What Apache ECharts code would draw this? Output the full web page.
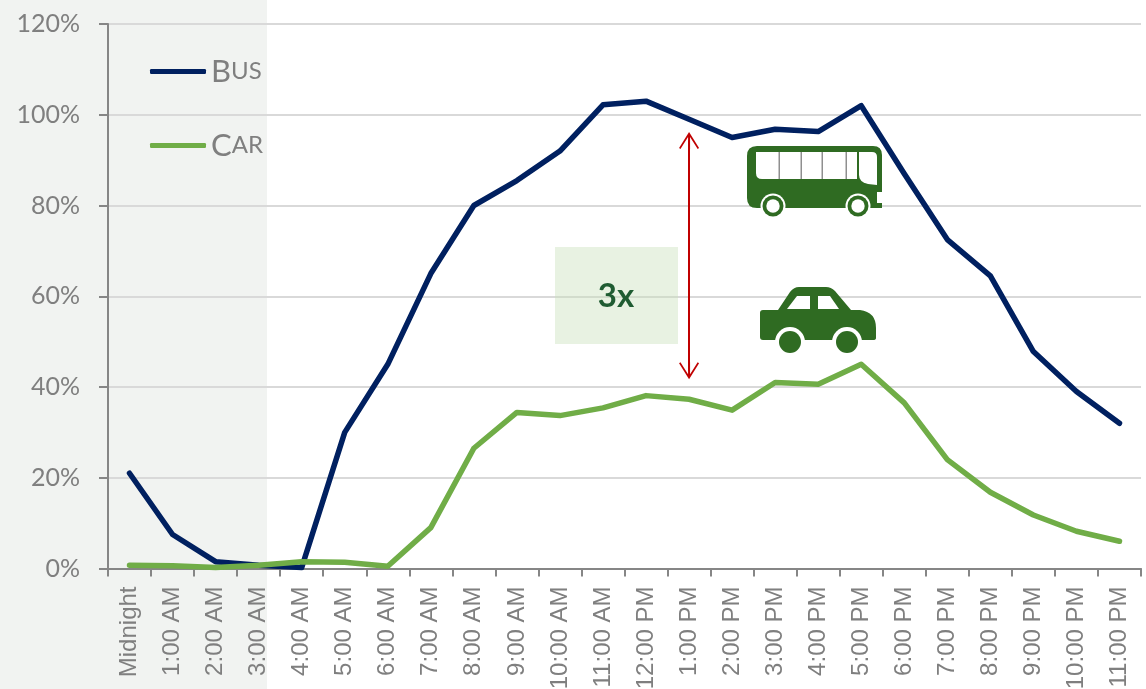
<!DOCTYPE html>
<html>
<head>
<meta charset="utf-8">
<style>html,body{margin:0;padding:0;background:#fff}#chart{width:1146px;height:689px}</style>
<script src="https://cdn.jsdelivr.net/npm/echarts@6/dist/echarts.min.js"></script>
</head>
<body>
<div id="chart"></div>
<script>
var hours = ['Midnight','1:00 AM','2:00 AM','3:00 AM','4:00 AM','5:00 AM','6:00 AM','7:00 AM','8:00 AM','9:00 AM','10:00 AM','11:00 AM','12:00 PM','1:00 PM','2:00 PM','3:00 PM','4:00 PM','5:00 PM','6:00 PM','7:00 PM','8:00 PM','9:00 PM','10:00 PM','11:00 PM'];
var bus = [21,7.5,1.5,0.7,0.2,30,45,65,80,85.5,92,102.2,103,99,95,96.8,96.3,102,87,72.5,64.5,47.8,39,32];
var car = [0.7,0.6,0.2,0.7,1.5,1.4,0.5,9,26.5,34.4,33.7,35.4,38.1,37.3,34.9,41,40.6,45,36.5,24,16.8,11.8,8.2,6];
var gapTop = 94.3, gapBottom = 43.6;

var grey = '#7f7f7f';
var iconGreen = '#2f6b22';
var white = '#fff';

// the graphic component has no plain 'path' type, so the icon outlines get registered
function addShape(name, pathData) {
    echarts.graphic.registerShape(name, echarts.graphic.extendPath(pathData, {}));
}
addShape('busBody', 'M757 146 H873 Q882 146 882 155 V192 H877 V203 H882 V208 H757 Q747 208 747 198 V156 Q747 146 757 146 Z');
addShape('busWindows', 'M756 152 H857 V179 H762 Q756 179 756 173 Z');
addShape('busDoor', 'M859 152 H872 Q877 152 877 157 V185 L868 184 Q859 182 859 175 Z');
addShape('carBody', 'M763 310 H778 L790 292 Q794 287 799 287 H826 Q831 287 835 291 L851 310 H860 Q876 312 876 328 V338 Q876 340 873 340 H763 Q760 340 760 337 V313 Q760 310 763 310 Z');

var chart = echarts.init(document.getElementById('chart'));

// z does not carry over from a group, each part has to be lifted over the grid lines
function lift(parts) {
    parts.forEach(function (part) {
        part.z = 5;
        part.silent = true;
    });
    return parts;
}

function busIcon() {
    var dividers = [779, 801, 822, 846].map(function (x) {
        return {type: 'rect', shape: {x: x - 0.5, y: 152, width: 1.5, height: 27}, style: {fill: '#8f8f8f'}};
    });
    var wheels = [773, 858].reduce(function (list, x) {
        list.push({type: 'circle', shape: {cx: x, cy: 206, r: 12.5}, style: {fill: white}});
        list.push({type: 'circle', shape: {cx: x, cy: 206, r: 10.5}, style: {fill: iconGreen}});
        list.push({type: 'circle', shape: {cx: x, cy: 206, r: 6.7}, style: {fill: white}});
        return list;
    }, []);
    return lift([
        {type: 'busBody', style: {fill: iconGreen}},
        {type: 'busWindows', style: {fill: white}},
        {type: 'busDoor', style: {fill: white}}
    ].concat(dividers, wheels));
}

function carIcon() {
    return lift([
        {type: 'carBody', style: {fill: iconGreen}},
        {type: 'polygon', shape: {points: [[787,309],[797,296],[810,296],[810,309]]}, style: {fill: white}},
        {type: 'polygon', shape: {points: [[818,296],[830,296],[839,309],[818,309]]}, style: {fill: white}},
        {type: 'circle', shape: {cx: 790, cy: 342, r: 15}, style: {fill: white}},
        {type: 'circle', shape: {cx: 847, cy: 342, r: 15}, style: {fill: white}},
        {type: 'circle', shape: {cx: 790, cy: 342, r: 11}, style: {fill: iconGreen}},
        {type: 'circle', shape: {cx: 847, cy: 342, r: 11}, style: {fill: iconGreen}}
    ]);
}

// open chevron with a bit of stem, the line itself starts at the symbol centre
var arrowHead = 'path://M10 0 L20 16 L18.6 17 L11 5 L11 17 L9 17 L9 5 L1.4 17 L0 16 Z';

chart.setOption({
    animation: false,
    backgroundColor: '#fff',
    textStyle: {fontFamily: 'Lato'},
    grid: {left: 108, right: 5, top: 24, bottom: 120.5, outerBoundsMode: 'none'},
    legend: {
        orient: 'vertical',
        left: 145,
        top: 51,
        icon: 'roundRect',
        itemWidth: 56,
        itemHeight: 5,
        itemGap: 43,
        data: ['Bus', 'Car'],
        formatter: function (name) {
            return '{a|' + name.charAt(0) + '}{b|' + name.slice(1).toUpperCase() + '}';
        },
        textStyle: {
            rich: {
                a: {fontFamily: 'Lato', fontSize: 31, color: grey, height: 40},
                b: {fontFamily: 'Lato', fontSize: 24, color: grey, height: 40}
            }
        }
    },
    xAxis: {
        type: 'category',
        data: hours,
        boundaryGap: true,
        axisLine: {onZero: false, lineStyle: {color: '#868686', width: 2}},
        axisTick: {show: true, length: 8, lineStyle: {color: '#868686', width: 2}},
        axisLabel: {
            rotate: 90,
            interval: 0,
            margin: 18,
            padding: [3, 0, 0, 0],
            fontFamily: 'Liberation Sans',
            fontSize: 24,
            color: grey
        }
    },
    yAxis: {
        type: 'value',
        min: 0,
        max: 120,
        interval: 20,
        axisLine: {show: true, lineStyle: {color: '#868686', width: 2}},
        axisTick: {show: true, length: 9, lineStyle: {color: '#868686', width: 2}},
        axisLabel: {
            margin: 28,
            fontFamily: 'Lato',
            fontSize: 25,
            color: grey,
            formatter: '{value}%'
        },
        splitLine: {lineStyle: {color: '#d9d9d9', width: 2}}
    },
    series: [
        {
            name: 'Bus',
            type: 'line',
            data: bus,
            symbol: 'none',
            z: 3,
            color: '#002060',
            lineStyle: {color: '#002060', width: 5.5, cap: 'round', join: 'round'},
            markLine: {
                silent: true,
                symbol: [arrowHead, arrowHead],
                symbolSize: [20, 17],
                label: {show: false},
                lineStyle: {color: '#c00000', width: 2, type: 'solid'},
                data: [[{coord: ['1:00 PM', gapTop]}, {coord: ['1:00 PM', gapBottom]}]]
            }
        },
        {
            name: 'Car',
            type: 'line',
            data: car,
            symbol: 'none',
            z: 4,
            color: '#70ad47',
            lineStyle: {color: '#70ad47', width: 5.5, cap: 'round', join: 'round'}
        }
    ],
    graphic: [
        {type: 'rect', z: -1, silent: true, shape: {x: 0, y: 0, width: 267, height: 689}, style: {fill: '#f1f3f1'}},
        {type: 'rect', z: 1, silent: true, shape: {x: 555, y: 247, width: 123, height: 97}, style: {fill: 'rgba(200,225,185,0.42)'}},
        {type: 'text', z: 5, silent: true, style: {x: 616, y: 296, text: '3x', align: 'center', verticalAlign: 'middle', fontFamily: 'Lato', fontWeight: 'bold', fontSize: 33, fill: '#1f5c32'}},
        {type: 'group', children: busIcon()},
        {type: 'group', children: carIcon()}
    ]
});
</script>
</body>
</html>
